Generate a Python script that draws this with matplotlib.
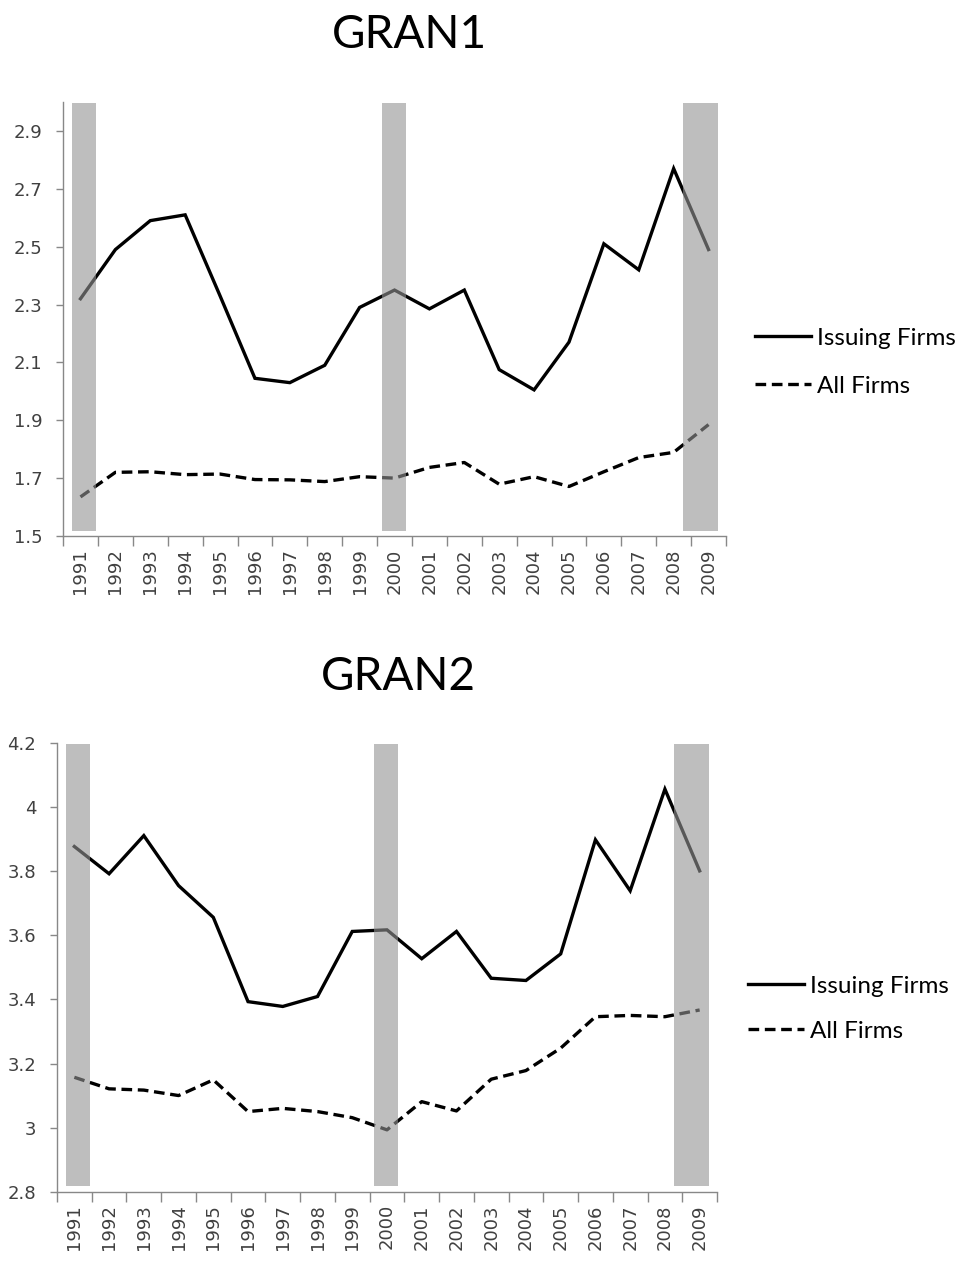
import matplotlib
matplotlib.use('Agg')
import matplotlib.pyplot as plt

# Years on the x axis
years = list(range(1991, 2010))

# GRAN1 values
gran1_issuing = [2.32, 2.49, 2.59, 2.61, 2.33, 2.045, 2.03, 2.09, 2.29, 2.35,
                 2.285, 2.35, 2.075, 2.005, 2.17, 2.51, 2.42, 2.77, 2.49]
gran1_all = [1.635, 1.72, 1.722, 1.712, 1.714, 1.695, 1.694, 1.688, 1.705, 1.70,
             1.737, 1.754, 1.679, 1.705, 1.671, 1.722, 1.771, 1.789, 1.885]

# GRAN2 values
gran2_issuing = [3.877, 3.792, 3.911, 3.755, 3.656, 3.393, 3.378, 3.409, 3.612, 3.617,
                 3.527, 3.612, 3.466, 3.459, 3.542, 3.898, 3.739, 4.056, 3.801]
gran2_all = [3.157, 3.121, 3.117, 3.100, 3.149, 3.050, 3.060, 3.050, 3.031, 2.993,
             3.081, 3.052, 3.151, 3.178, 3.248, 3.346, 3.350, 3.346, 3.367]

# Recession periods (shaded), in year units
recession_start = [1990.76, 1999.64, 2008.26]
recession_end = [1991.44, 2000.33, 2009.27]

series_labels = ['Issuing Firms', 'All Firms']

fig = plt.figure(figsize=(9.64, 12.85), dpi=100)


def draw_panel(rect, issuing, allf, ylim, yticks, yticklabels):
    ax = fig.add_axes(rect)
    ax.plot(years, issuing, color='black', lw=2.4, zorder=2, label=series_labels[0],
            solid_joinstyle='miter')
    ax.plot(years, allf, color='black', lw=2.4, zorder=2, label=series_labels[1],
            linestyle=(0, (3.2, 1.7)))
    # shaded bands go on top, semi transparent (lines look dark gray inside)
    for s, e in zip(recession_start, recession_end):
        ax.axvspan(s, e, ymin=0.012, ymax=0.997, color='#949494', alpha=0.6, lw=0, zorder=3)

    ax.set_xlim(1990.5, 2009.5)
    ax.set_ylim(*ylim)
    ax.set_yticks(yticks)
    ax.set_yticklabels(yticklabels)

    # category boundaries get the tick marks, labels sit in the middle
    ax.set_xticks([y - 0.5 for y in years] + [years[-1] + 0.5])
    ax.set_xticklabels([])
    ax.set_xticks(years, minor=True)
    ax.set_xticklabels([str(y) for y in years], minor=True, rotation=90)
    ax.tick_params(axis='x', which='major', length=7, width=1, color='#888888', direction='out')
    ax.tick_params(axis='x', which='minor', length=0, pad=9, labelsize=13, labelcolor='#404040')
    ax.tick_params(axis='y', length=5, width=1, color='#888888', direction='out',
                   labelsize=13, labelcolor='#404040', pad=10)

    for side in ['top', 'right']:
        ax.spines[side].set_visible(False)
    for side in ['left', 'bottom']:
        ax.spines[side].set_color('#888888')
        ax.spines[side].set_linewidth(1)
    return ax


# ---- GRAN1 ----
ax1 = draw_panel([0.0654, 0.5829, 0.6877, 0.3377], gran1_issuing, gran1_all,
                 (1.5, 3.0), [1.5, 1.7, 1.9, 2.1, 2.3, 2.5, 2.7, 2.9],
                 ['1.5', '1.7', '1.9', '2.1', '2.3', '2.5', '2.7', '2.9'])
fig.text(0.425, 0.973, 'GRAN1', fontsize=33, family='Lato', ha='center', va='center')
ax1.legend(loc='center left', bbox_to_anchor=(0.783, 0.718), bbox_transform=fig.transFigure,
           frameon=False, prop={'family': 'Lato', 'size': 17.5}, handlelength=2.3,
           handletextpad=0.25, labelspacing=1.12, borderaxespad=0, borderpad=0)

# ---- GRAN2 ----
ax2 = draw_panel([0.0591, 0.0726, 0.6847, 0.3492], gran2_issuing, gran2_all,
                 (2.8, 4.2), [2.8, 3.0, 3.2, 3.4, 3.6, 3.8, 4.0, 4.2],
                 ['2.8', '3', '3.2', '3.4', '3.6', '3.8', '4', '4.2'])
fig.text(0.413, 0.473, 'GRAN2', fontsize=33, family='Lato', ha='center', va='center')
ax2.legend(loc='center left', bbox_to_anchor=(0.776, 0.215), bbox_transform=fig.transFigure,
           frameon=False, prop={'family': 'Lato', 'size': 17.5}, handlelength=2.3,
           handletextpad=0.25, labelspacing=1.0, borderaxespad=0, borderpad=0)

plt.savefig('out.png', dpi=100)
